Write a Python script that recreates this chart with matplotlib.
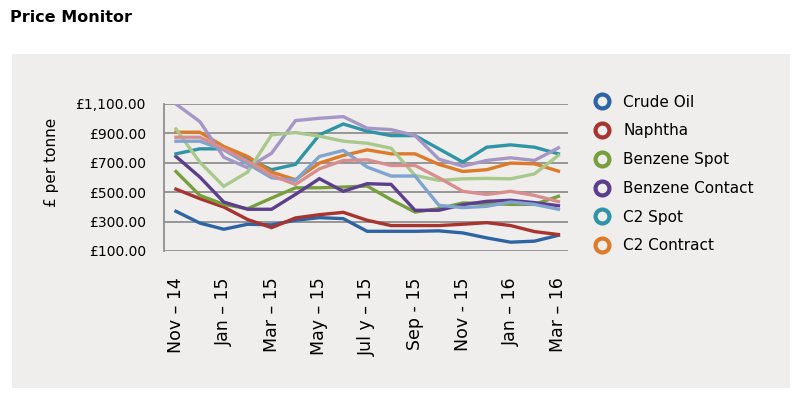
import numpy as np
import matplotlib
matplotlib.use("Agg")
import matplotlib.pyplot as plt
from matplotlib.patches import Rectangle
from matplotlib.lines import Line2D
from matplotlib.ticker import FuncFormatter

# data (monthly, Nov 2014 .. Mar 2016)
months = ["Nov – 14", "Dec – 14", "Jan – 15", "Feb – 15", "Mar – 15", "Apr – 15",
          "May – 15", "Jun – 15", "Jul y – 15", "Aug – 15", "Sep - 15", "Oct - 15",
          "Nov - 15", "Dec - 15", "Jan – 16", "Feb – 16", "Mar – 16"]

crude_oil = [370, 290, 248, 282, 278, 309, 327, 320, 234, 234, 234, 237, 223, 189, 160, 167, 207]
naphtha = [521, 456, 399, 314, 259, 325, 347, 363, 309, 273, 273, 273, 282, 293, 273, 232, 212]
benzene_spot = [641, 478, 417, 388, 460, 530, 530, 535, 542, 449, 365, 388, 427, 422, 417, 417, 472]
benzene_contact = [743, 603, 433, 384, 384, 485, 592, 506, 558, 553, 377, 377, 415, 438, 445, 429, 408]
c2_spot = [761, 795, 795, 727, 653, 689, 890, 964, 915, 885, 885, 795, 705, 806, 822, 806, 761]
c2_contract = [908, 908, 811, 743, 637, 585, 698, 750, 788, 761, 761, 689, 641, 653, 698, 693, 643]

# unlabelled (lighter) series also drawn in the chart
light_purple = [1100, 980, 738, 666, 765, 987, 1003, 1014, 935, 926, 885, 725, 677, 716, 734, 716, 802]
light_green = [930, 704, 540, 637, 890, 906, 881, 847, 833, 799, 614, 580, 591, 594, 591, 625, 750]
light_blue = [847, 847, 788, 693, 598, 580, 743, 784, 671, 610, 610, 411, 395, 404, 433, 417, 384]
pink = [874, 874, 795, 711, 614, 553, 659, 716, 720, 682, 682, 598, 506, 485, 506, 478, 436]

names = ["Crude Oil", "Naphtha", "Benzene Spot", "Benzene Contact", "C2 Spot", "C2 Contract"]
series = [crude_oil, naphtha, benzene_spot, benzene_contact, c2_spot, c2_contract]
colors = ["#2f64a4", "#a83430", "#77a03c", "#5c3d8e", "#2e94a6", "#dd7b2b"]

light_series = [light_purple, light_green, light_blue, pink]
light_colors = ["#a596c6", "#a8c98b", "#80a4d0", "#d88e8e"]

yticks = [100, 300, 500, 700, 900, 1100]

fig = plt.figure(figsize=(8, 3.93), dpi=100)
fig.patch.set_facecolor("white")
fig.patches.append(Rectangle((12 / 800, 1 - 388 / 393), 778 / 800, 334 / 393,
                             transform=fig.transFigure, facecolor="#efeeec",
                             edgecolor="none", zorder=-5))
fig.text(10 / 800, 1 - 18 / 393, "Price Monitor", fontsize=11.5, fontweight="bold",
         va="center", ha="left")

ax = fig.add_axes([164 / 800, 1 - 251 / 393, 404 / 800, 147 / 393])
ax.set_facecolor("none")

x = np.arange(len(months))
for vals, c in zip(series, colors):
    ax.plot(x, vals, color=c, lw=2.4, solid_joinstyle="miter", zorder=3)
for vals, c in zip(light_series, light_colors):
    ax.plot(x, vals, color=c, lw=2.4, solid_joinstyle="miter", zorder=3)

ax.set_xlim(-0.5, 16.4)
ax.set_ylim(100, 1100)
ax.set_yticks(yticks)
ax.yaxis.set_major_formatter(FuncFormatter(lambda v, p: "£{:,.2f}".format(v)))
ax.grid(axis="y", color="#8f8f8f", lw=1.3, zorder=1)
ax.set_xticks(x[::2])
ax.set_xticklabels(months[::2], rotation=90, fontsize=12.5)
ax.tick_params(axis="both", length=0)
ax.tick_params(axis="x", pad=19)
ax.tick_params(axis="y", labelsize=10, pad=13)
for side in ["top", "right", "bottom"]:
    ax.spines[side].set_visible(False)
ax.spines["left"].set_color("#8f8f8f")
ax.spines["left"].set_linewidth(1.3)
ax.set_ylabel("£ per tonne", fontsize=11)
ax.yaxis.set_label_coords(-0.26, 0.6)

handles = [Line2D([], [], ls="none", marker="o", markersize=10, markerfacecolor="none",
                  markeredgecolor=c, markeredgewidth=3) for c in colors]
fig.legend(handles, names, loc="upper left", bbox_to_anchor=(579 / 800, 1 - 81 / 393),
           frameon=False, fontsize=11, handletextpad=0.8, labelspacing=0.9,
           handlelength=1.2)

fig.savefig("out.png", dpi=100)
